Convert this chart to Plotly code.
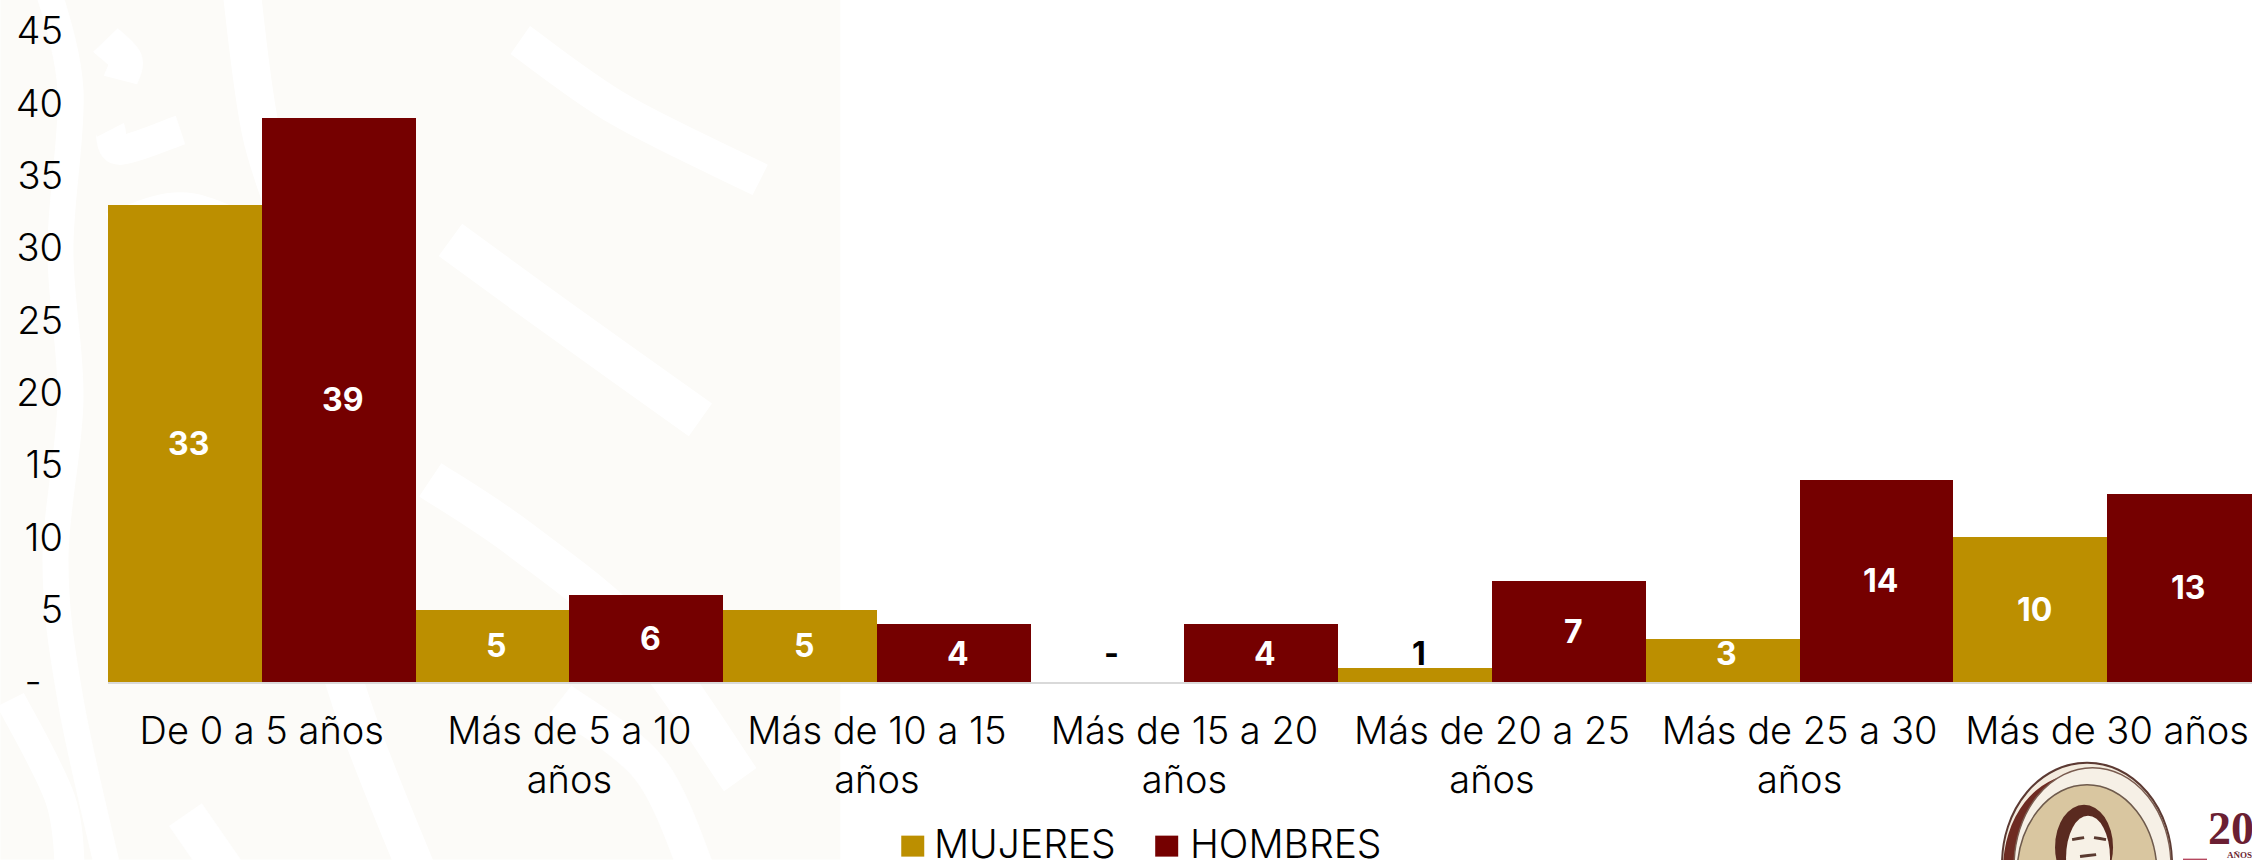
import plotly.graph_objects as go

categories = ["De 0 a 5 años", "Más de 5 a 10<br>años", "Más de 10 a 15<br>años", "Más de 15 a 20<br>años",
              "Más de 20 a 25<br>años", "Más de 25 a 30<br>años", "Más de 30 años"]
mujeres = [33, 5, 5, 0, 1, 3, 10]
hombres = [39, 6, 4, 4, 7, 14, 13]
y_ticks = [0, 5, 10, 15, 20, 25, 30, 35, 40, 45]
y_labels = ["-&nbsp;&nbsp;", "5", "10", "15", "20", "25", "30", "35", "40", "45"]
GOLD, MAROON = "#BC8F00", "#750000"
FONT = "Inter"
L, W, H = 107.6, 2144.4, 682.3


def px(x):
    return (x - L) / W


def py(y):
    return (H - y) / H


def stroke(points, width=30, color="#FFFFFF", layer="below"):
    """Smooth decorative stroke through the given pixel points."""
    p = [points[0]] + list(points) + [points[-1]]
    d = f"M{px(points[0][0]):.4f},{py(points[0][1]):.4f}"
    for i in range(1, len(p) - 2):
        c1 = (p[i][0] + (p[i + 1][0] - p[i - 1][0]) / 6, p[i][1] + (p[i + 1][1] - p[i - 1][1]) / 6)
        c2 = (p[i + 1][0] - (p[i + 2][0] - p[i][0]) / 6, p[i + 1][1] - (p[i + 2][1] - p[i][1]) / 6)
        d += (f" C{px(c1[0]):.4f},{py(c1[1]):.4f} {px(c2[0]):.4f},{py(c2[1]):.4f}"
              f" {px(p[i + 1][0]):.4f},{py(p[i + 1][1]):.4f}")
    return dict(type="path", xref="paper", yref="paper", path=d, line=dict(color=color, width=width), layer=layer)


def ellipse(x0, y0, x1, y1, fill, line=None, lw=0):
    return dict(type="circle", xref="paper", yref="paper", x0=px(x0), x1=px(x1), y0=py(y1), y1=py(y0),
                fillcolor=fill, line=dict(color=line or fill, width=lw), layer="above")


fig = go.Figure()
for name, vals, col in [("MUJERES", mujeres, GOLD), ("HOMBRES", hombres, MAROON)]:
    fig.add_bar(x=categories, y=vals, name=name, marker_color=col, marker_line_width=0, showlegend=False)

annotations = []
for vals, shift in [(mujeres, -77), (hombres, 77)]:
    for c, v in zip(categories, vals):
        annotations.append(dict(x=c, y=max(v / 2, 2), xref="x", yref="y", xshift=shift + 4, showarrow=False,
                                text=f"<b>{v if v else '-'}</b>",
                                font=dict(family=FONT, size=32, color="white" if v >= 3 else "black")))

shapes = []
# faint watermark behind the chart
shapes.append(dict(type="rect", xref="paper", yref="paper", x0=px(0), x1=px(840), y0=py(860), y1=py(0),
                   fillcolor="#FCFBF8", line_width=0, layer="below"))
for pts, w in [
    ([(45, -20), (70, 90), (60, 250), (70, 400), (55, 560), (70, 700), (110, 880)], 26),
    ([(105, 40), (125, 60), (120, 80)], 34),
    ([(240, -20), (260, 130), (300, 280), (305, 520), (350, 700), (420, 880)], 38),
    ([(180, 130), (120, 150), (110, 130)], 30),
    ([(110, 230), (190, 210), (300, 260)], 34),
    ([(520, 40), (620, 110), (760, 180)], 34),
    ([(450, 240), (560, 320), (700, 420)], 40),
    ([(430, 480), (520, 540), (640, 640), (740, 780)], 40),
    ([(10, 700), (60, 800), (70, 880)], 30),
    ([(185, 815), (230, 880)], 40),
    ([(560, 700), (650, 770), (700, 880)], 36),
]:
    shapes.append(stroke(pts, w))

# legend
for x0, col, label, tx in [(901, GOLD, "MUJERES", 932), (1155, MAROON, "HOMBRES", 1188)]:
    shapes.append(dict(type="rect", xref="paper", yref="paper", x0=px(x0), x1=px(x0 + 23),
                       y0=py(857), y1=py(836), fillcolor=col, line_width=0))
    annotations.append(dict(xref="paper", yref="paper", x=px(tx), y=py(844), xanchor="left", yanchor="middle",
                            text=label, showarrow=False, font=dict(family=FONT, size=39, weight=300, color="black")))

# commemorative emblem, lower right
shapes += [
    ellipse(2002, 763, 2172, 965, "#F4ECDF", "#5C3A33", 2),
    ellipse(2003, 775, 2150, 965, "#6E2B22"),
    ellipse(2014, 768, 2171, 965, "#F6F0E6", "#7A5C50", 1.5),
    ellipse(2017, 785, 2157, 965, "#D9C6A0", "#6E5A4C", 1.5),
    ellipse(2055, 805, 2113, 890, "#5A2A20"),
    ellipse(2066, 816, 2110, 900, "#F7F1E6"),
    dict(type="rect", xref="paper", yref="paper", x0=px(2183), x1=px(2207), y0=py(862), y1=py(859),
         fillcolor="#B5485F", line_width=0),
]
for pts in [[(2072, 840), (2084, 838)], [(2094, 838), (2106, 840)], [(2080, 857), (2096, 855)]]:
    shapes.append(stroke(pts, 3, "#5A3A30", "above"))
annotations += [
    dict(xref="paper", yref="paper", x=px(2206), y=py(829), xanchor="left", yanchor="middle", text="<b>20</b>",
         showarrow=False, font=dict(family="Liberation Serif", size=46, color="#6B1F33")),
    dict(xref="paper", yref="paper", x=px(2225), y=py(855), xanchor="left", yanchor="middle", text="<b>AÑOS</b>",
         showarrow=False, font=dict(family="Liberation Serif", size=9, color="#6B1F33")),
]

fig.update_layout(
    width=2252, height=860, margin=dict(l=L, r=0, t=0, b=860 - H), barmode="group", bargap=0, bargroupgap=0,
    plot_bgcolor="rgba(0,0,0,0)", paper_bgcolor="#FFFFFF", annotations=annotations, shapes=shapes,
    font=dict(family=FONT, size=38, color="black", weight=300),
    xaxis=dict(range=[-0.5, 6.471], showgrid=False, showline=True, linecolor="#D9D9D9", linewidth=2, ticks="",
               ticklabelstandoff=14, tickfont=dict(family=FONT, size=38, weight=300), automargin=False),
    yaxis=dict(range=[0, 47.15], tickvals=y_ticks, ticktext=y_labels, showgrid=False, zeroline=False, ticks="",
               ticklabelstandoff=44, tickfont=dict(family=FONT, size=38, weight=300), automargin=False),
)
fig.write_html("out.html", config={"displayModeBar": False},
               post_script="document.body.style.margin='0';document.documentElement.style.overflow='hidden';")
